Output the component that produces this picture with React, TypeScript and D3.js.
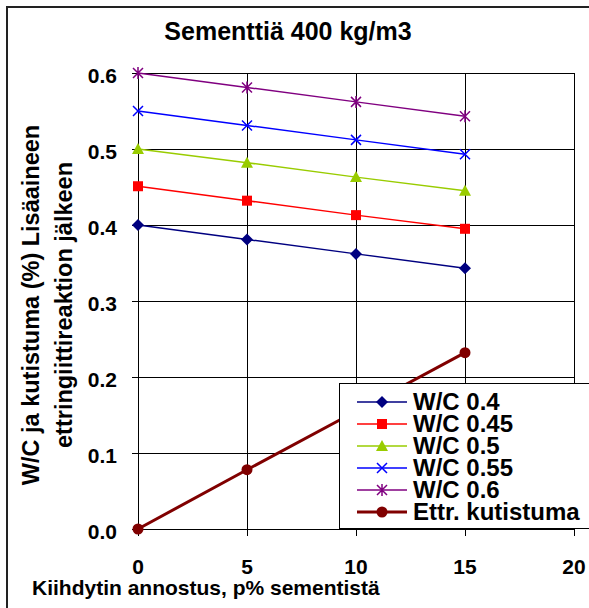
import React from "react";
import * as d3 from "d3";

const doses = [0, 5, 10, 15];
const wc04 = [0.4, 0.381, 0.362, 0.343];
const wc045 = [0.451, 0.432, 0.413, 0.395];
const wc05 = [0.5, 0.482, 0.463, 0.445];
const wc055 = [0.55, 0.531, 0.512, 0.493];
const wc06 = [0.6, 0.581, 0.562, 0.543];
const ettr = [0, 0.078, 0.155, 0.232];
const xTicks = [0, 5, 10, 15, 20];
const yTicks = [0, 0.1, 0.2, 0.3, 0.4, 0.5, 0.6];

const series = [
  { name: "W/C 0.4", values: wc04, color: "#000080", marker: "diamond", width: 1.5 },
  { name: "W/C 0.45", values: wc045, color: "#ff0000", marker: "square", width: 1.5 },
  { name: "W/C 0.5", values: wc05, color: "#99cc00", marker: "triangle", width: 1.5 },
  { name: "W/C 0.55", values: wc055, color: "#0000ff", marker: "x", width: 1.5 },
  { name: "W/C 0.6", values: wc06, color: "#800080", marker: "star", width: 1.5 },
  { name: "Ettr. kutistuma", values: ettr, color: "#800000", marker: "circle", width: 3 },
];

const FONT = "'Liberation Sans', Arial, sans-serif";

function Marker({ type, cx, cy, color }: { type: string; cx: number; cy: number; color: string }) {
  if (type === "diamond")
    return <path d={`M${cx},${cy - 6}L${cx + 6},${cy}L${cx},${cy + 6}L${cx - 6},${cy}Z`} fill={color} />;
  if (type === "square") return <rect x={cx - 5} y={cy - 5} width={10} height={10} fill={color} />;
  if (type === "triangle")
    return <path d={`M${cx},${cy - 6}L${cx + 6},${cy + 5}L${cx - 6},${cy + 5}Z`} fill={color} />;
  if (type === "x")
    return (
      <path d={`M${cx - 5},${cy - 5}L${cx + 5},${cy + 5}M${cx - 5},${cy + 5}L${cx + 5},${cy - 5}`} stroke={color} strokeWidth={1.5} />
    );
  if (type === "star")
    return (
      <path
        d={`M${cx - 5},${cy - 5}L${cx + 5},${cy + 5}M${cx - 5},${cy + 5}L${cx + 5},${cy - 5}M${cx},${cy - 6}L${cx},${cy + 6}`}
        stroke={color}
        strokeWidth={1.5}
      />
    );
  return <circle cx={cx} cy={cy} r={5.5} fill={color} />;
}

export default function App() {
  const x = d3.scaleLinear().domain([0, 20]).range([138, 574]);
  const y = d3.scaleLinear().domain([0, 0.6]).range([529, 73]);
  const line = d3
    .line<number>()
    .x((_, i) => x(doses[i]))
    .y((d) => y(d));

  const legX = 339;
  const legY = 383;

  return (
    <svg
      width={589}
      height={608}
      style={{ position: "absolute", left: 0, top: 0, background: "#fff" }}
      fontFamily={FONT}
      fontWeight="bold"
    >
      <rect x={7} y={7} width={600} height={620} fill="#fff" stroke="#222" strokeWidth={2} />
      <text x={288} y={40} textAnchor="middle" fontSize={25}>
        Sementtiä 400 kg/m3
      </text>

      {/* grid */}
      {yTicks.slice(1).map((t) => (
        <line key={"h" + t} x1={138} x2={574} y1={Math.round(y(t)) + 0.5} y2={Math.round(y(t)) + 0.5} stroke="#000" />
      ))}
      {xTicks.slice(1).map((t) => (
        <line key={"v" + t} x1={Math.round(x(t)) + 0.5} x2={Math.round(x(t)) + 0.5} y1={73} y2={529} stroke="#000" />
      ))}
      {/* axes */}
      <line x1={138.5} x2={138.5} y1={73} y2={530} stroke="#000" />
      <line x1={138} x2={574} y1={529.5} y2={529.5} stroke="#000" />
      {yTicks.map((t) => (
        <g key={"yt" + t}>
          <line x1={132} x2={138} y1={Math.round(y(t)) + 0.5} y2={Math.round(y(t)) + 0.5} stroke="#000" />
          <text x={117} y={y(t) + 10} textAnchor="end" fontSize={21}>
            {t.toFixed(1)}
          </text>
        </g>
      ))}
      {xTicks.map((t) => (
        <g key={"xt" + t}>
          <line x1={Math.round(x(t)) + 0.5} x2={Math.round(x(t)) + 0.5} y1={529} y2={536} stroke="#000" />
          <text x={x(t)} y={574} textAnchor="middle" fontSize={21}>
            {t}
          </text>
        </g>
      ))}
      <text x={32} y={595} fontSize={21}>
        Kiihdytin annostus, p% sementistä
      </text>
      <g transform="translate(39,305) rotate(-90)">
        <text x={0} y={0} textAnchor="middle" fontSize={23.5}>
          W/C ja kutistuma (%) Lisäaineen
        </text>
        <text x={0} y={33} textAnchor="middle" fontSize={23.5}>
          ettringiittireaktion jälkeen
        </text>
      </g>

      {/* series */}
      {series.map((s) => (
        <g key={s.name}>
          <path d={line(s.values) || ""} fill="none" stroke={s.color} strokeWidth={s.width} />
          {s.values.map((v, i) => (
            <Marker key={i} type={s.marker} cx={x(doses[i])} cy={y(v)} color={s.color} />
          ))}
        </g>
      ))}

      {/* legend */}
      <rect x={legX + 0.5} y={legY + 0.5} width={300} height={145} fill="#fff" stroke="#000" />
      {series.map((s, i) => {
        const cy = legY + 19 + i * 22;
        return (
          <g key={"l" + s.name}>
            <line x1={357} x2={407} y1={cy} y2={cy} stroke={s.color} strokeWidth={s.width} />
            <Marker type={s.marker} cx={382} cy={cy} color={s.color} />
            <text x={413} y={cy + 8} fontSize={24}>
              {s.name}
            </text>
          </g>
        );
      })}
    </svg>
  );
}
